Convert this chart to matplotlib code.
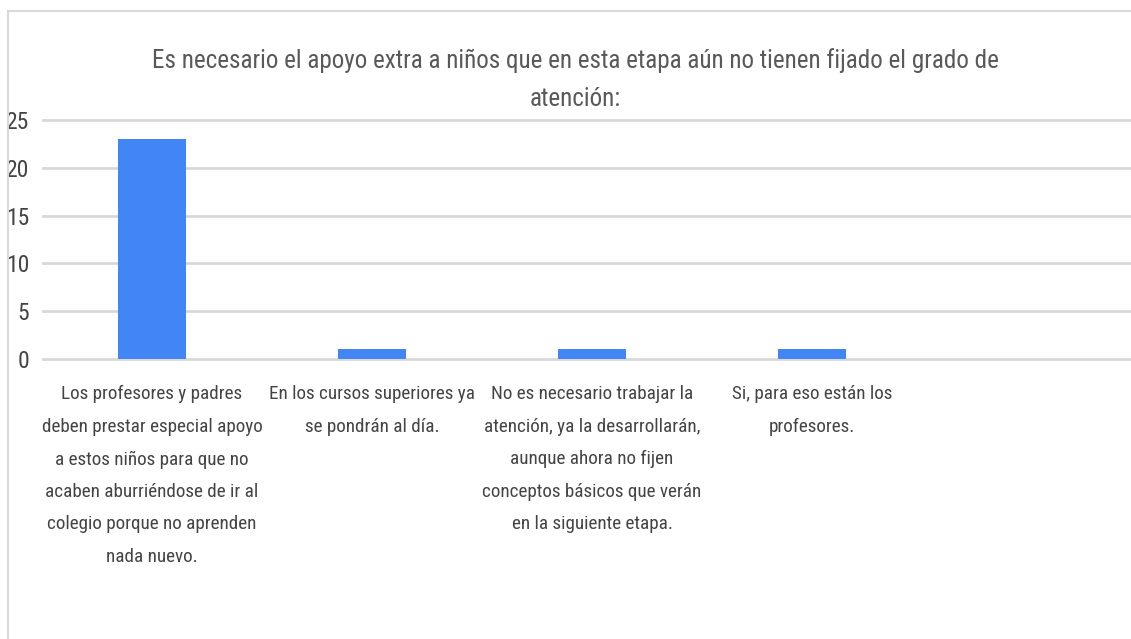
import matplotlib
matplotlib.use("Agg")
import matplotlib.pyplot as plt
from matplotlib.patches import Rectangle

plt.rcParams['font.family'] = ['Roboto Condensed', 'Roboto', 'DejaVu Sans']

title = "Es necesario el apoyo extra a niños que en esta etapa aún no tienen fijado el grado de\natención:"
categories = [
    "Los profesores y padres\ndeben prestar especial apoyo\na estos niños para que no\nacaben aburriéndose de ir al\ncolegio porque no aprenden\nnada nuevo.",
    "En los cursos superiores ya\nse pondrán al día.",
    "No es necesario trabajar la\natención, ya la desarrollarán,\naunque ahora no fijen\nconceptos básicos que verán\nen la siguiente etapa.",
    "Si, para eso están los\nprofesores.",
]
values = [23, 1, 1, 1]
yticks = [0, 5, 10, 15, 20, 25]

W, H = 1131, 639
fig = plt.figure(figsize=(W / 100, H / 100), dpi=100)
fig.patch.set_facecolor('white')

# outer frame (left and top visible)
fig.patches.append(Rectangle((8 / W, -0.1), 1.2, (H - 11) / H + 0.1, transform=fig.transFigure,
                             fill=False, edgecolor='#d9d9d9', linewidth=1.5))

ax = fig.add_axes([43 / W, (H - 359) / H, (W - 43) / W, (359 - 120) / H])
x = list(range(len(categories)))
ax.bar(x, values, width=68 / 220, color='#4285F4', zorder=3)
ax.set_xlim(-0.495, 4.45)
ax.set_ylim(0, 25)
ax.set_yticks(yticks)
ax.set_yticklabels([str(t) for t in yticks], fontsize=17, color='#444444')
ax.tick_params(axis='y', length=0, pad=10)
ax.set_xticks(x)
ax.set_xticklabels(categories, fontsize=13.8, color='#444444', linespacing=2.03, va='top')
ax.tick_params(axis='x', length=0, pad=19)
ax.grid(axis='y', color='#d9d9d9', linewidth=2, zorder=0)
ax.set_axisbelow(True)
for s in ax.spines.values():
    s.set_visible(False)
for gl in ax.get_ygridlines():
    gl.set_clip_on(False)

fig.text(575 / W, (H - 79.5) / H, title, ha='center', va='center', fontsize=18.1,
         color='#595959', linespacing=1.72)

fig.savefig('out.png', dpi=100)
